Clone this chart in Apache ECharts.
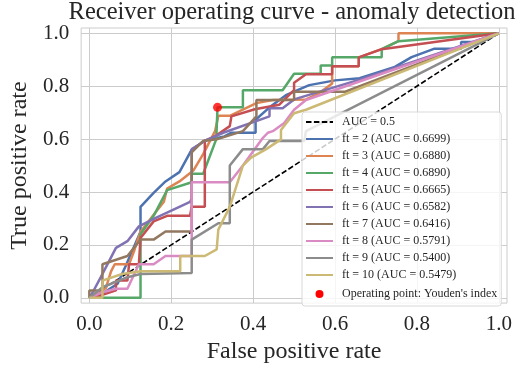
<!DOCTYPE html>
<html>
<head>
<meta charset="utf-8">
<script src="https://cdn.jsdelivr.net/npm/echarts@6/dist/echarts.min.js"></script>
<style>
  html, body { margin: 0; padding: 0; background: #fff; }
  #chart { width: 518px; height: 369px; }
</style>
</head>
<body>
<div id="chart"></div>
<script>
// ROC points [false positive rate, true positive rate]
var chance = [[0, 0], [1, 1]];
var ft2 = [[0,0],[0.008,0.01],[0.028,0.012],[0.069,0.053],[0.089,0.121],[0.125,0.25],[0.125,0.344],[0.157,0.397],[0.186,0.44],[0.22,0.475],[0.25,0.56],[0.282,0.595],[0.33,0.61],[0.346,0.624],[0.406,0.624],[0.406,0.673],[0.44,0.72],[0.48,0.766],[0.537,0.804],[0.6,0.822],[0.66,0.83],[0.746,0.873],[0.787,0.91],[0.843,0.942],[0.908,0.942],[0.908,0.967],[0.94,0.967],[1,1]];
var ft3 = [[0,0],[0.04,0.036],[0.053,0.1],[0.062,0.127],[0.097,0.127],[0.11,0.18],[0.125,0.25],[0.157,0.314],[0.182,0.363],[0.19,0.413],[0.22,0.44],[0.254,0.481],[0.278,0.543],[0.307,0.63],[0.315,0.688],[0.343,0.688],[0.408,0.736],[0.448,0.748],[0.529,0.75],[0.561,0.773],[0.593,0.81],[0.593,0.875],[0.658,0.875],[0.658,0.909],[0.714,0.94],[0.755,0.97],[0.755,1],[1,1]];
var ft4 = [[0,0],[0.03,0],[0.125,0],[0.125,0.24],[0.157,0.31],[0.19,0.407],[0.25,0.437],[0.25,0.469],[0.278,0.469],[0.31,0.6],[0.313,0.72],[0.375,0.72],[0.375,0.785],[0.472,0.785],[0.5,0.847],[0.565,0.847],[0.565,0.878],[0.593,0.878],[0.593,0.909],[0.714,0.909],[0.714,0.94],[0.755,0.97],[1,1]];
var ft5 = [[0,0],[0.03,0.01],[0.065,0.028],[0.065,0.065],[0.093,0.065],[0.097,0.127],[0.121,0.127],[0.125,0.226],[0.157,0.289],[0.19,0.31],[0.246,0.31],[0.25,0.344],[0.282,0.344],[0.282,0.593],[0.307,0.611],[0.343,0.649],[0.347,0.686],[0.404,0.713],[0.464,0.73],[0.5,0.785],[0.5,0.813],[0.529,0.845],[0.593,0.845],[0.593,0.875],[0.658,0.875],[0.658,0.909],[0.714,0.94],[1,1]];
var ft6 = [[0,0],[0.008,0.02],[0.028,0.078],[0.065,0.189],[0.093,0.214],[0.121,0.27],[0.161,0.301],[0.246,0.363],[0.25,0.375],[0.25,0.562],[0.282,0.593],[0.327,0.624],[0.44,0.686],[0.44,0.717],[0.472,0.717],[0.5,0.75],[0.66,0.825],[1,1]];
var ft7 = [[0,0],[0,0.028],[0.032,0.028],[0.032,0.127],[0.093,0.158],[0.125,0.22],[0.157,0.22],[0.186,0.251],[0.25,0.251],[0.25,0.55],[0.278,0.593],[0.311,0.599],[0.375,0.63],[0.408,0.686],[0.408,0.748],[0.5,0.748],[0.5,0.779],[0.625,0.779],[1,1]];
var ft8 = [[0,0],[0.03,0.02],[0.065,0.034],[0.093,0.034],[0.121,0.127],[0.157,0.127],[0.186,0.158],[0.25,0.158],[0.25,0.437],[0.343,0.437],[0.375,0.5],[0.424,0.605],[0.436,0.624],[0.448,0.63],[0.476,0.661],[0.5,0.711],[0.529,0.748],[1,1]];
var ft9 = [[0,0],[0.008,0.01],[0.032,0.04],[0.093,0.078],[0.125,0.09],[0.25,0.094],[0.25,0.22],[0.315,0.282],[0.343,0.282],[0.343,0.5],[0.375,0.562],[0.424,0.562],[0.44,0.593],[0.525,0.593],[0.529,0.63],[1,1]];
var ft10 = [[0,0],[0.032,0],[0.032,0.065],[0.08,0.09],[0.125,0.1],[0.222,0.1],[0.222,0.158],[0.282,0.158],[0.311,0.183],[0.315,0.258],[0.343,0.344],[0.375,0.5],[0.395,0.53],[0.432,0.562],[0.468,0.599],[0.468,0.634],[0.5,0.698],[0.529,0.711],[1,1]];
var youden = [[0.313, 0.72]];

var curves = [ft2, ft3, ft4, ft5, ft6, ft7, ft8, ft9, ft10];
var curveNames = ['ft = 2 (AUC = 0.6699)', 'ft = 3 (AUC = 0.6880)', 'ft = 4 (AUC = 0.6890)',
  'ft = 5 (AUC = 0.6665)', 'ft = 6 (AUC = 0.6582)', 'ft = 7 (AUC = 0.6416)',
  'ft = 8 (AUC = 0.5791)', 'ft = 9 (AUC = 0.5400)', 'ft = 10 (AUC = 0.5479)'];
var colors = ['#4C72B0', '#DD8452', '#55A868', '#C44E52', '#8172B3', '#937860', '#DA8BC3', '#8C8C8C', '#CCB974'];
var ticks = [0, 0.2, 0.4, 0.6, 0.8, 1.0];

var font = 'Liberation Serif';
var txt = '#262626';

var chart = echarts.init(document.getElementById('chart'));

var series = [{
  name: 'AUC = 0.5',
  type: 'line',
  symbol: 'none',
  data: chance,
  lineStyle: { color: '#000', width: 1.6, type: [5.5, 2.4] },
  itemStyle: { color: '#000' }
}];
curves.forEach(function (c, i) {
  series.push({
    name: curveNames[i],
    type: 'line',
    symbol: 'none',
    data: c,
    lineStyle: { color: colors[i], width: 2.5 },
    itemStyle: { color: colors[i] }
  });
});
series.push({
  name: "Operating point: Youden's index",
  type: 'scatter',
  data: youden,
  symbolSize: 9,
  itemStyle: { color: '#ff0000' },
  z: 5
});

function axis(name, gap, labelMargin) {
  return {
    type: 'value',
    min: -0.02,
    max: 1.02,
    name: name,
    nameLocation: 'middle',
    nameGap: gap,
    nameTextStyle: { fontFamily: font, fontSize: 24, color: txt },
    axisLine: { show: false },
    axisTick: { show: false, customValues: ticks },
    axisLabel: {
      customValues: ticks,
      margin: labelMargin,
      fontFamily: font, fontSize: 21, color: txt,
      formatter: function (v) { return v.toFixed(1); }
    },
    splitLine: { show: true, lineStyle: { color: '#cccccc', width: 1 } }
  };
}

var option = {
  animation: false,
  title: {
    text: 'Receiver operating curve - anomaly detection',
    left: 292,
    top: 0,
    padding: 0,
    textAlign: 'center',
    textStyle: { fontFamily: font, fontSize: 24.5, fontWeight: 'normal', color: txt }
  },
  grid: {
    left: 77, right: 11, top: 28, bottom: 62,
    show: true, borderColor: '#cccccc', borderWidth: 1
  },
  xAxis: axis('False positive rate', 32, 11),
  yAxis: axis('True positive rate', 46, 12),
  legend: {
    orient: 'vertical',
    left: 302,
    top: 112,
    padding: [4, 4, 4, 3],
    itemWidth: 27,
    itemHeight: 12,
    itemGap: 5,
    itemStyle: { opacity: 0 },
    backgroundColor: 'rgba(255,255,255,0.8)',
    borderColor: '#d9d9d9',
    borderWidth: 1,
    borderRadius: 3,
    textStyle: { fontFamily: font, fontSize: 12, color: txt, padding: [0, 0, 0, 4] },
    data: [
      'AUC = 0.5'
    ].concat(curveNames).concat([{
      name: "Operating point: Youden's index",
      icon: 'circle',
      itemStyle: { opacity: 1, color: '#ff0000', borderColor: '#fff', borderWidth: 4 }
    }])
  },
  series: series
};

chart.setOption(option);
</script>
</body>
</html>
